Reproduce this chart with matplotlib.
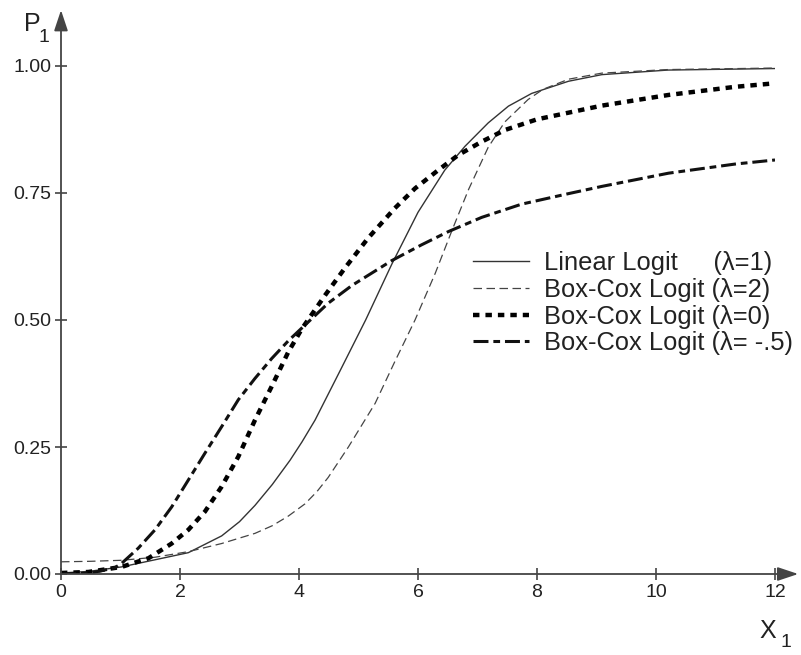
import matplotlib
matplotlib.use("Agg")
import matplotlib.pyplot as plt

plt.rcParams['font.family'] = ['Liberation Sans', 'DejaVu Sans']

# values
x_lin = [0, 0.46, 1.02, 1.58, 2.14, 2.70, 3.0, 3.26, 3.55, 3.85, 4.05, 4.27, 4.69, 5.12,
         5.56, 6.0, 6.45, 6.79, 7.18, 7.52, 7.91, 8.53, 9.09, 10.2, 12]
p_lin = [0.002, 0.005, 0.014, 0.028, 0.042, 0.075, 0.103, 0.135, 0.176, 0.224, 0.260,
         0.303, 0.400, 0.50, 0.610, 0.712, 0.795, 0.842, 0.888, 0.921, 0.946, 0.970,
         0.983, 0.992, 0.995]

x_bc2 = [0, 0.5, 1.02, 1.58, 2.14, 2.70, 3.26, 3.55, 3.82, 4.1, 4.3, 4.49, 4.83, 5.28,
         5.61, 5.95, 6.29, 6.57, 6.85, 7.18, 7.46, 7.85, 8.1, 8.53, 9.09, 10.2, 12]
p_bc2 = [0.024, 0.025, 0.027, 0.033, 0.044, 0.060, 0.080, 0.095, 0.114, 0.138, 0.162,
         0.190, 0.250, 0.336, 0.418, 0.50, 0.592, 0.676, 0.757, 0.840, 0.890, 0.934,
         0.954, 0.974, 0.986, 0.993, 0.996]

x_bc0 = [0, 0.46, 1.02, 1.47, 1.86, 2.14, 2.42, 2.70, 2.98, 3.26, 3.54, 3.82, 4.05,
         4.44, 4.77, 5.16, 5.61, 5.95, 6.34, 6.68, 7.07, 7.46, 8.0, 9.09, 10.21, 11.33, 12]
p_bc0 = [0.002, 0.004, 0.014, 0.031, 0.060, 0.087, 0.123, 0.172, 0.231, 0.303, 0.369,
         0.437, 0.483, 0.549, 0.602, 0.661, 0.720, 0.759, 0.795, 0.825, 0.851, 0.874,
         0.895, 0.922, 0.943, 0.959, 0.966]

x_bcm = [0, 0.5, 0.9, 1.02, 1.30, 1.58, 1.86, 2.14, 2.42, 2.70, 2.98, 3.26, 3.54, 3.82,
         4.10, 4.49, 4.89, 5.56, 6.06, 6.51, 7.07, 7.74, 8.5, 9.09, 10.21, 11.33, 12]
p_bcm = [0.0, 0.002, 0.012, 0.021, 0.051, 0.087, 0.132, 0.185, 0.238, 0.290, 0.343,
         0.385, 0.424, 0.459, 0.490, 0.533, 0.568, 0.617, 0.648, 0.674, 0.702, 0.728,
         0.748, 0.763, 0.789, 0.807, 0.815]

labels = ["Linear Logit     (\u03bb=1)", "Box-Cox Logit (\u03bb=2)",
          "Box-Cox Logit (\u03bb=0)", "Box-Cox Logit (\u03bb= -.5)"]
xticks = [0, 2, 4, 6, 8, 10, 12]
yticks = [0.0, 0.25, 0.50, 0.75, 1.00]

fig = plt.figure(figsize=(8.01, 6.55), dpi=100)
ax = fig.add_axes([61/801, 81/655, 714/801, 508/655])

ax.plot(x_lin, p_lin, color="#333333", lw=1.0, label=labels[0])
ax.plot(x_bc2, p_bc2, color="#444444", lw=0.9, dashes=(6.8, 3.6), label=labels[1])
ax.plot(x_bc0, p_bc0, color="black", lw=3.2, dashes=(1.45, 1.35),
        dash_capstyle="butt", label=labels[2])
ax.plot(x_bcm, p_bcm, color="#111111", lw=2.2, dashes=(4.9, 1.6, 2.2, 1.6),
        dash_capstyle="butt", label=labels[3])

ax.set_xlim(0, 12)
ax.set_ylim(0, 1)
for s in ax.spines.values():
    s.set_visible(False)

# axes with arrow heads
arrow = dict(arrowstyle="-|>,head_length=0.9,head_width=0.3", color="#444444",
             lw=1.3, shrinkA=0, shrinkB=0, mutation_scale=14)
ax.annotate("", xy=(12.39, 0), xytext=(0, 0), arrowprops=arrow, annotation_clip=False)
ax.annotate("", xy=(0, 1.11), xytext=(0, 0), arrowprops=arrow, annotation_clip=False)

ax.set_xticks(xticks)
ax.set_xticklabels([str(t) for t in xticks])
ax.set_yticks(yticks)
ax.set_yticklabels(["%.2f" % t for t in yticks])
ax.tick_params(direction="inout", length=8, width=1.2, color="#444444",
               labelsize=14, labelcolor="#222222", pad=3)

fig.text(24/801, 1 - 12/655, "P", fontsize=18, color="#222222", ha="left", va="top")
fig.text(38/801, 1 - 29/655, "1", fontsize=14, color="#222222", ha="left", va="top")
fig.text(759/801, 1 - 619/655, "X", fontsize=18, color="#222222", ha="left", va="top")
fig.text(781/801, 1 - 634/655, "1", fontsize=14, color="#222222", ha="left", va="top")

leg = ax.legend(loc="center left", bbox_to_anchor=(6.92, 0.533),
                bbox_transform=ax.transData, frameon=False, fontsize=18.4,
                handlelength=2.2, handletextpad=0.6, labelspacing=0.1,
                borderpad=0, borderaxespad=0)
for t in leg.get_texts():
    t.set_color("#222222")

fig.savefig("out.png", dpi=100)
